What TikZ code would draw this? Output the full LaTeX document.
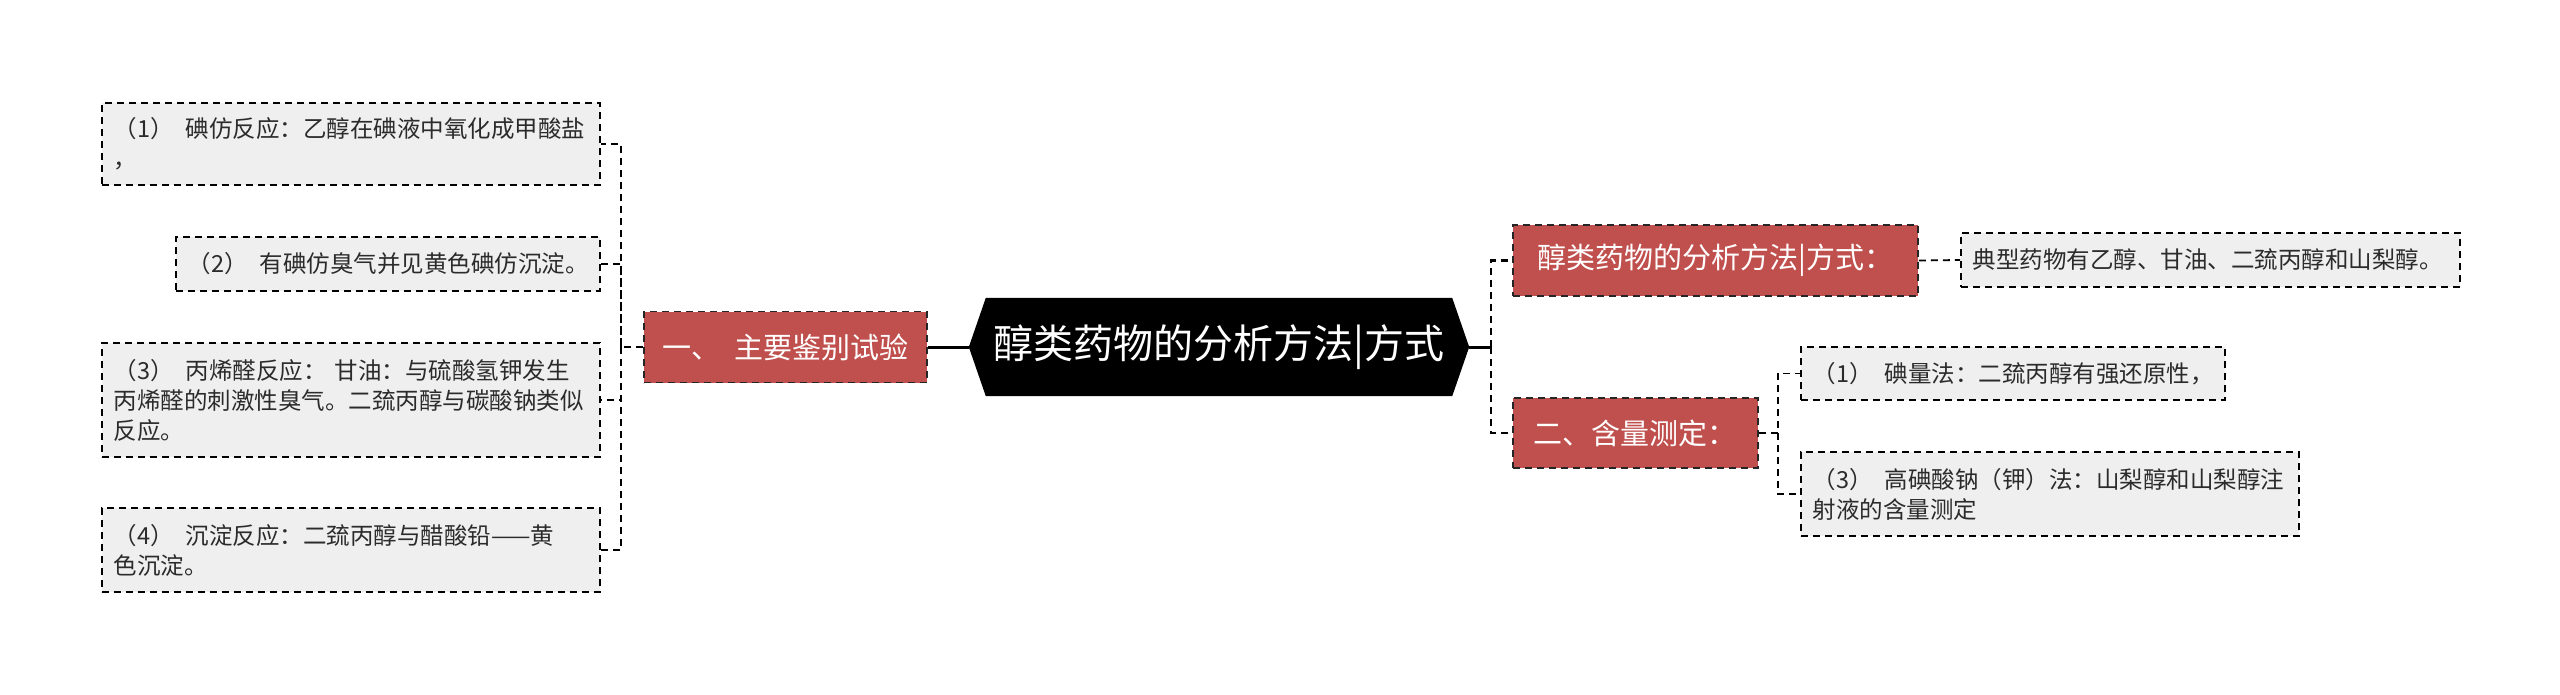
\documentclass[tikz,border=0pt]{standalone}
\usepackage{fontspec}
\setmainfont{Noto Sans CJK SC}
\usetikzlibrary{backgrounds}
\definecolor{boxred}{HTML}{C0504D}
\definecolor{leafgray}{HTML}{EFEFEF}
\definecolor{txt}{HTML}{2B2B2B}
\begin{document}
\begin{tikzpicture}[x=1pt,y=-1pt,
  leaf/.style={draw=black, dash pattern=on 7pt off 5pt, line width=1.8pt, fill=leafgray, text=txt,
    anchor=west, inner xsep=12pt, inner ysep=0pt, font=\fontsize{23.5}{30}\selectfont, align=left},
  redbox/.style={draw=black!85, dash pattern=on 7pt off 5pt, line width=1.8pt, fill=boxred, text=white,
    anchor=west, inner sep=0pt, font=\fontsize{29}{34}\selectfont, align=center},
  conn/.style={draw=black, dash pattern=on 7pt off 5pt, line width=1.8pt},
  rconn/.style={draw=black, dash pattern=on 7pt off 5pt, line width=2.6pt},
  rootline/.style={draw=black, line width=3pt}
]
\useasboundingbox (0,0) rectangle (2560,694);

% root
\node[font=\fontsize{40}{48}\selectfont, text=white, minimum width=500pt, minimum height=98pt, inner sep=0pt]
  (root) at (1219,347) {醇类药物的分析方法|方式};
\begin{scope}[on background layer]
\fill[black] (root.west) -- ([xshift=17pt]root.north west) -- ([xshift=-17pt]root.north east)
  -- (root.east) -- ([xshift=-17pt]root.south east) -- ([xshift=17pt]root.south west) -- cycle;
\end{scope}

% left branch
\node[redbox, minimum width=283pt, minimum height=71pt] (r1) at (643,347) {一、\hspace{0.5em}主要鉴别试验};

\node[leaf, minimum height=82pt, text width=474pt] (l1) at (101,144)
  {（1）\kern.5em碘仿反应：乙醇在碘液中氧化成甲酸盐\\，};
\node[leaf, minimum height=54pt, text width=400pt] (l2) at (175,264)
  {（2）\kern.5em有碘仿臭气并见黄色碘仿沉淀。};
\node[leaf, minimum height=114pt, text width=474pt] (l3) at (101,400)
  {（3）\kern.5em丙烯醛反应：~甘油：与硫酸氢钾发生\\丙烯醛的刺激性臭气。二巯丙醇与碳酸钠类似\\反应。};
\node[leaf, minimum height=84pt, text width=474pt] (l4) at (101,550)
  {（4）\kern.5em沉淀反应：二巯丙醇与醋酸铅——黄\\色沉淀。};

\coordinate (lb) at (621,347);
\draw[rootline] (root.west) -- (r1.east);
\draw[conn] (r1.west) -- (lb) |- (l1.east);
\draw[conn] (lb) |- (l2.east);
\draw[conn] (lb) |- (l3.east);
\draw[conn] (lb) |- (l4.east);

% right branch
\node[redbox, minimum width=405pt, minimum height=71pt] (a) at (1512,260.5) {醇类药物的分析方法|方式：};
\node[redbox, minimum width=245pt, minimum height=70pt] (b) at (1512,433) {二、含量测定：};

\node[leaf, minimum height=54pt, text width=475pt] (a1) at (1960,260)
  {典型药物有乙醇、甘油、二巯丙醇和山梨醇。};
\node[leaf, minimum height=53pt, text width=400pt] (b1) at (1800,373.5)
  {（1）\kern.5em碘量法：二巯丙醇有强还原性，};
\node[leaf, minimum height=84pt, text width=474pt] (b2) at (1800,494)
  {（3）\kern.5em高碘酸钠（钾）法：山梨醇和山梨醇注\\射液的含量测定};

\coordinate (rb) at (1491,347);
\draw[rootline] (root.east) -- (rb);
\draw[rconn] (rb) |- (a.west);
\draw[rconn] (rb) |- (b.west);
\draw[conn] (a.east) -- (a1.west);

\coordinate (bb) at (1778,433);
\draw[conn] (b.east) -- (bb) |- (b1.west);
\draw[conn] (bb) |- (b2.west);
\end{tikzpicture}
\end{document}
